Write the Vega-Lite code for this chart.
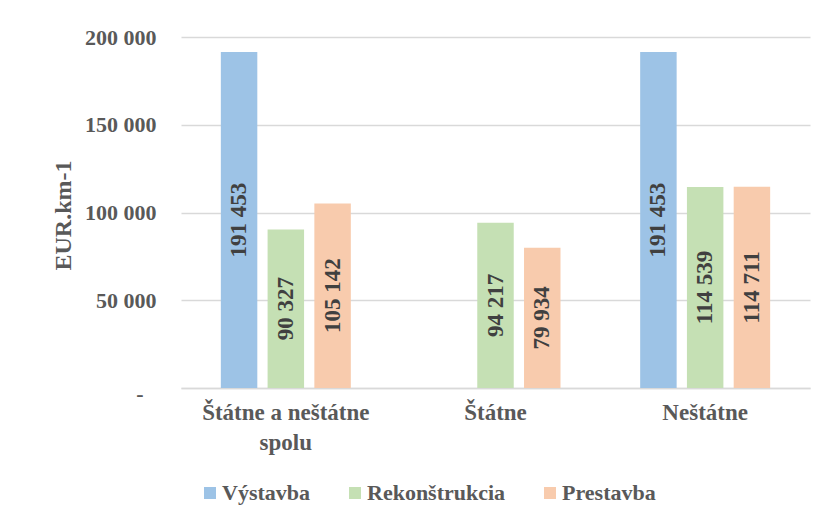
{
  "$schema": "https://vega.github.io/schema/vega-lite/v6.json",
  "width": 629,
  "height": 351,
  "autosize": {"type": "none"},
  "padding": {"left": 181, "top": 37, "right": 6, "bottom": 132},
  "background": "white",
  "config": {
    "locale": {"number": {"decimal": ",", "thousands": " ", "grouping": [3], "currency": ["", ""]}},
    "view": {"stroke": null},
    "font": "Liberation Serif",
    "axis": {"labelFont": "Liberation Serif", "titleFont": "Liberation Serif"},
    "legend": {"labelFont": "Liberation Serif"},
    "text": {"font": "Liberation Serif"}
  },
  "data": {
    "values": [
      {"kat": "Štátne a neštátne spolu", "typ": "Výstavba", "hodnota": 191453},
      {"kat": "Štátne a neštátne spolu", "typ": "Rekonštrukcia", "hodnota": 90327},
      {"kat": "Štátne a neštátne spolu", "typ": "Prestavba", "hodnota": 105142},
      {"kat": "Štátne", "typ": "Rekonštrukcia", "hodnota": 94217},
      {"kat": "Štátne", "typ": "Prestavba", "hodnota": 79934},
      {"kat": "Neštátne", "typ": "Výstavba", "hodnota": 191453},
      {"kat": "Neštátne", "typ": "Rekonštrukcia", "hodnota": 114539},
      {"kat": "Neštátne", "typ": "Prestavba", "hodnota": 114711}
    ]
  },
  "encoding": {
    "x": {
      "field": "kat",
      "type": "nominal",
      "sort": ["Štátne a neštátne spolu", "Štátne", "Neštátne"],
      "scale": {"paddingInner": 0.38, "paddingOuter": 0.19},
      "axis": {
        "title": null,
        "labelAngle": 0,
        "labelFont": "Liberation Serif",
        "labelFontSize": 23,
        "labelFontWeight": "bold",
        "labelColor": "#595959",
        "labelPadding": 13,
        "labelLineHeight": 30,
        "labelExpr": "datum.value == 'Štátne a neštátne spolu' ? ['Štátne a neštátne', 'spolu'] : datum.label",
        "ticks": false,
        "domainColor": "#d9d9d9",
        "domainWidth": 1.5
      }
    },
    "xOffset": {
      "field": "typ",
      "type": "nominal",
      "sort": ["Výstavba", "Rekonštrukcia", "Prestavba"],
      "scale": {"paddingInner": 0.22, "paddingOuter": 0}
    }
  },
  "layer": [
    {
      "mark": {"type": "bar"},
      "encoding": {
        "y": {
          "field": "hodnota",
          "type": "quantitative",
          "scale": {"domain": [0, 200000], "nice": false},
          "axis": {
            "title": "EUR.km-1",
            "titleFont": "Liberation Serif",
            "titleFontSize": 24,
            "titleFontWeight": "bold",
            "titleColor": "#595959",
            "titleX": -118,
            "titleY": 178,
            "titleAngle": -90,
            "titleAlign": "center",
            "titleBaseline": "middle",
            "values": [0, 50000, 100000, 150000, 200000],
            "format": ",.0f",
            "labelExpr": "datum.value === 0 ? '-' : datum.label",
            "labelFont": "Liberation Serif",
            "labelFontSize": 22,
            "labelFontWeight": "bold",
            "labelColor": "#595959",
            "labelPadding": {"condition": {"test": "datum.value === 0", "value": 38}, "value": 25},
            "labelOffset": {"condition": {"test": "datum.value === 0", "value": 5}, "value": 0},
            "domain": false,
            "ticks": false,
            "grid": true,
            "gridColor": "#d9d9d9",
            "gridWidth": 1.5
          }
        },
        "color": {
          "field": "typ",
          "type": "nominal",
          "sort": ["Výstavba", "Rekonštrukcia", "Prestavba"],
          "scale": {"domain": ["Výstavba", "Rekonštrukcia", "Prestavba"], "range": ["#9DC3E6", "#C5E0B4", "#F8CBAD"]},
          "legend": {
            "title": null,
            "orient": "none",
            "legendX": 18,
            "legendY": 445,
            "padding": 0,
            "direction": "horizontal",
            "symbolType": "square",
            "symbolSize": 144,
            "symbolStrokeWidth": 0,
            "labelFont": "Liberation Serif",
            "labelFontSize": 22,
            "labelFontWeight": "bold",
            "labelColor": "#595959",
            "labelOffset": 1,
            "columnPadding": 33
          }
        }
      }
    },
    {
      "transform": [{"calculate": "datum.hodnota / 2", "as": "stred"}],
      "mark": {"type": "text", "angle": -90, "align": "center", "baseline": "middle", "font": "Liberation Serif", "fontSize": 23, "fontWeight": "bold", "color": "#404040"},
      "encoding": {
        "y": {"field": "stred", "type": "quantitative"},
        "text": {"field": "hodnota", "type": "quantitative", "format": ",.0f"}
      }
    }
  ]
}
